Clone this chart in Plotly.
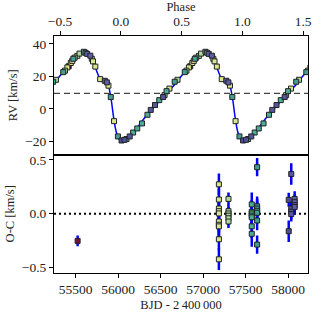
import numpy as np
import plotly.graph_objects as go

# ---- observations ----
bjd = [55523,
       57186, 57186, 57186, 57186, 57186, 57186, 57186, 57186, 57186, 57186,
       57299, 57299, 57299, 57299, 57299, 57299,
       57573, 57573, 57573, 57573, 57573, 57573, 57573,
       57636, 57636, 57636, 57636, 57636, 57636, 57636,
       58008, 58008,
       58038, 58038, 58038, 58038,
       58078, 58078, 58078, 58078]
phase = [0.571,
         0.588, 0.761, 0.771, 0.830, 0.898, 0.944, 0.560, 0.600, 0.790, 0.400,
         0.466, 0.642, 0.360, 0.540, 0.660, 0.620,
         0.047, 0.101, 0.174, 0.219, 0.316, 0.376, 0.135,
         0.443, 0.526, 0.609, 0.696, 0.710, 0.917, 0.976,
         0.006, 0.030,
         0.073, 0.246, 0.281, 0.348,
         0.723, 0.749, 0.868, 0.885]
rv = [26.2,
      28.2, 30.8, 29.2, 18.3, 14.3, -7.5, 25.5, 29.5, 26.0, 12.5,
      17.9, 32.6, 8.5, 23.5, 34.0, 31.5,
      -18.5, -14.5, -8.9, -3.6, 5.4, 10.9, -12.0,
      16.7, 22.6, 30.8, 35.1, 34.5, 7.3, -16.9,
      -19.4, -19.0,
      -16.9, -0.6, 2.4, 7.3,
      33.8, 32.7, 17.3, 16.3]
oc = [-0.252,
      0.273, 0.132, 0.048, 0.024, 0.003, -0.072, -0.102, -0.117, -0.237, -0.423,
      0.138, 0.024, 0.003, -0.018, -0.042, -0.072,
      0.087, 0.018, 0.003, -0.018, -0.033, -0.117, -0.186,
      0.432, 0.069, 0.048, 0.027, 0.009, -0.063, -0.286,
      0.129, -0.162,
      0.369, 0.048, 0.020, -0.003,
      0.138, 0.108, 0.080, 0.063]
oc_err = [0.05,
          0.10, 0.10, 0.10, 0.10, 0.10, 0.10, 0.10, 0.10, 0.10, 0.10,
          0.06, 0.06, 0.06, 0.06, 0.06, 0.06,
          0.11, 0.11, 0.11, 0.11, 0.11, 0.11, 0.12,
          0.085, 0.09, 0.09, 0.09, 0.09, 0.09, 0.085,
          0.065, 0.10,
          0.10, 0.07, 0.07, 0.07,
          0.07, 0.07, 0.07, 0.07]

# ---- orbital model (one cycle) ----
model_phase = [0.0, 0.03, 0.05, 0.075, 0.10, 0.15, 0.20, 0.25, 0.30, 0.35, 0.40, 0.45,
               0.50, 0.55, 0.60, 0.65, 0.69, 0.72, 0.75, 0.77, 0.80, 0.83, 0.86,
               0.88, 0.90, 0.92, 0.94, 0.96, 0.98, 1.0]
model_rv = [-19.3, -19.0, -18.3, -16.9, -14.6, -10.0, -5.1, -0.8, 3.4, 7.4, 11.5, 15.6,
            20.4, 24.6, 29.0, 32.9, 35.1, 34.6, 32.5, 29.5, 23.5, 18.5, 17.4,
            16.5, 13.5, 6.0, -5.0, -13.5, -18.0, -19.3]
gamma = 9.5

phase_ticks = [-0.5, 0.0, 0.5, 1.0, 1.5]
bjd_ticks = [55500, 56000, 56500, 57000, 57500, 58000]

colorscale = [[0.0, "#7a0f3a"], [0.62, "#dbe993"], [0.66, "#d6e78e"], [0.70, "#a8d8a0"],
              [0.80, "#4aae98"], [0.83, "#3f9e94"], [0.97, "#4d4f96"], [1.0, "#5c5da6"]]
cmin, cmax = min(bjd), max(bjd)

FONT = "Liberation Serif, DejaVu Serif, serif"

fig = go.Figure()

mp = np.array(model_phase)
mr = np.array(model_rv)
mx = np.concatenate([mp[:-1] - 1, mp[:-1], mp + 1])
my = np.concatenate([mr[:-1], mr[:-1], mr])
fig.add_trace(go.Scatter(x=mx, y=my, mode="lines", line=dict(color="#0000ff", width=1.5, shape="spline"),
                         xaxis="x2", yaxis="y", showlegend=False, hoverinfo="skip"))
fig.add_trace(go.Scatter(x=[-0.55, 1.54], y=[gamma, gamma], mode="lines",
                         line=dict(color="#444444", width=1.3, dash="6px,4px"),
                         xaxis="x2", yaxis="y", showlegend=False))

ph = np.array(phase)
px_all = np.concatenate([ph - 1, ph, ph + 1])
rv_all = np.concatenate([rv, rv, rv])
col_all = np.concatenate([bjd, bjd, bjd])
fig.add_trace(go.Scatter(x=px_all, y=rv_all, mode="markers",
                         marker=dict(symbol="square", size=5, color=col_all, colorscale=colorscale,
                                     cmin=cmin, cmax=cmax, line=dict(color="#222222", width=1)),
                         xaxis="x2", yaxis="y", showlegend=False))

fig.add_trace(go.Scatter(x=[55245, 58235], y=[0, 0], mode="lines",
                         line=dict(color="black", width=1.8, dash="2px,3px"),
                         xaxis="x", yaxis="y2", showlegend=False))
fig.add_trace(go.Scatter(x=bjd, y=oc, mode="markers",
                         error_y=dict(type="data", array=oc_err, color="#0000ff", thickness=2.5, width=0),
                         marker=dict(symbol="square", size=5, color=bjd, colorscale=colorscale,
                                     cmin=cmin, cmax=cmax, line=dict(color="#222222", width=1)),
                         xaxis="x", yaxis="y2", showlegend=False))

tickfont = dict(family=FONT, size=13.5, color="#222222")
titlefont = dict(family=FONT, size=12.5, color="#222222")
axcommon = dict(showgrid=False, zeroline=False, showline=True, linecolor="black", linewidth=1,
                mirror=True, ticks="outside", ticklen=4, tickcolor="black", tickfont=tickfont)

fig.update_layout(
    width=315, height=313,
    margin=dict(l=54, r=3, t=34, b=35),
    paper_bgcolor="white", plot_bgcolor="white",
    xaxis=dict(**axcommon, domain=[0, 1], anchor="y2", range=[55245, 58235],
               tickvals=bjd_ticks, ticktext=[str(t) for t in bjd_ticks],
               title=dict(text="BJD - 2\u2009400\u2009000", font=titlefont, standoff=4)),
    xaxis2=dict(**axcommon, domain=[0, 1], anchor="y", side="top", range=[-0.55, 1.54],
                tickvals=phase_ticks, ticktext=["\u22120.5", "0.0", "0.5", "1.0", "1.5"],
                title=dict(text="Phase", font=titlefont, standoff=2)),
    yaxis=dict(**axcommon, domain=[0.5, 1], anchor="x2", range=[-28, 44.8],
               tickvals=[-20, 0, 20, 40], ticktext=["\u221220", "0", "20", "40"],
               title=dict(text="RV [km/s]", font=titlefont, standoff=4)),
    yaxis2=dict(**axcommon, domain=[0, 0.5], anchor="x", range=[-0.55, 0.55],
                tickvals=[-0.5, 0.0, 0.5], ticktext=["\u22120.5", "0.0", "0.5"],
                title=dict(text="O-C [km/s]", font=titlefont, standoff=4)),
)

fig.write_html("out.html", config={"displayModeBar": False},
               post_script="document.body.style.margin='0';document.body.style.overflow='hidden';")
